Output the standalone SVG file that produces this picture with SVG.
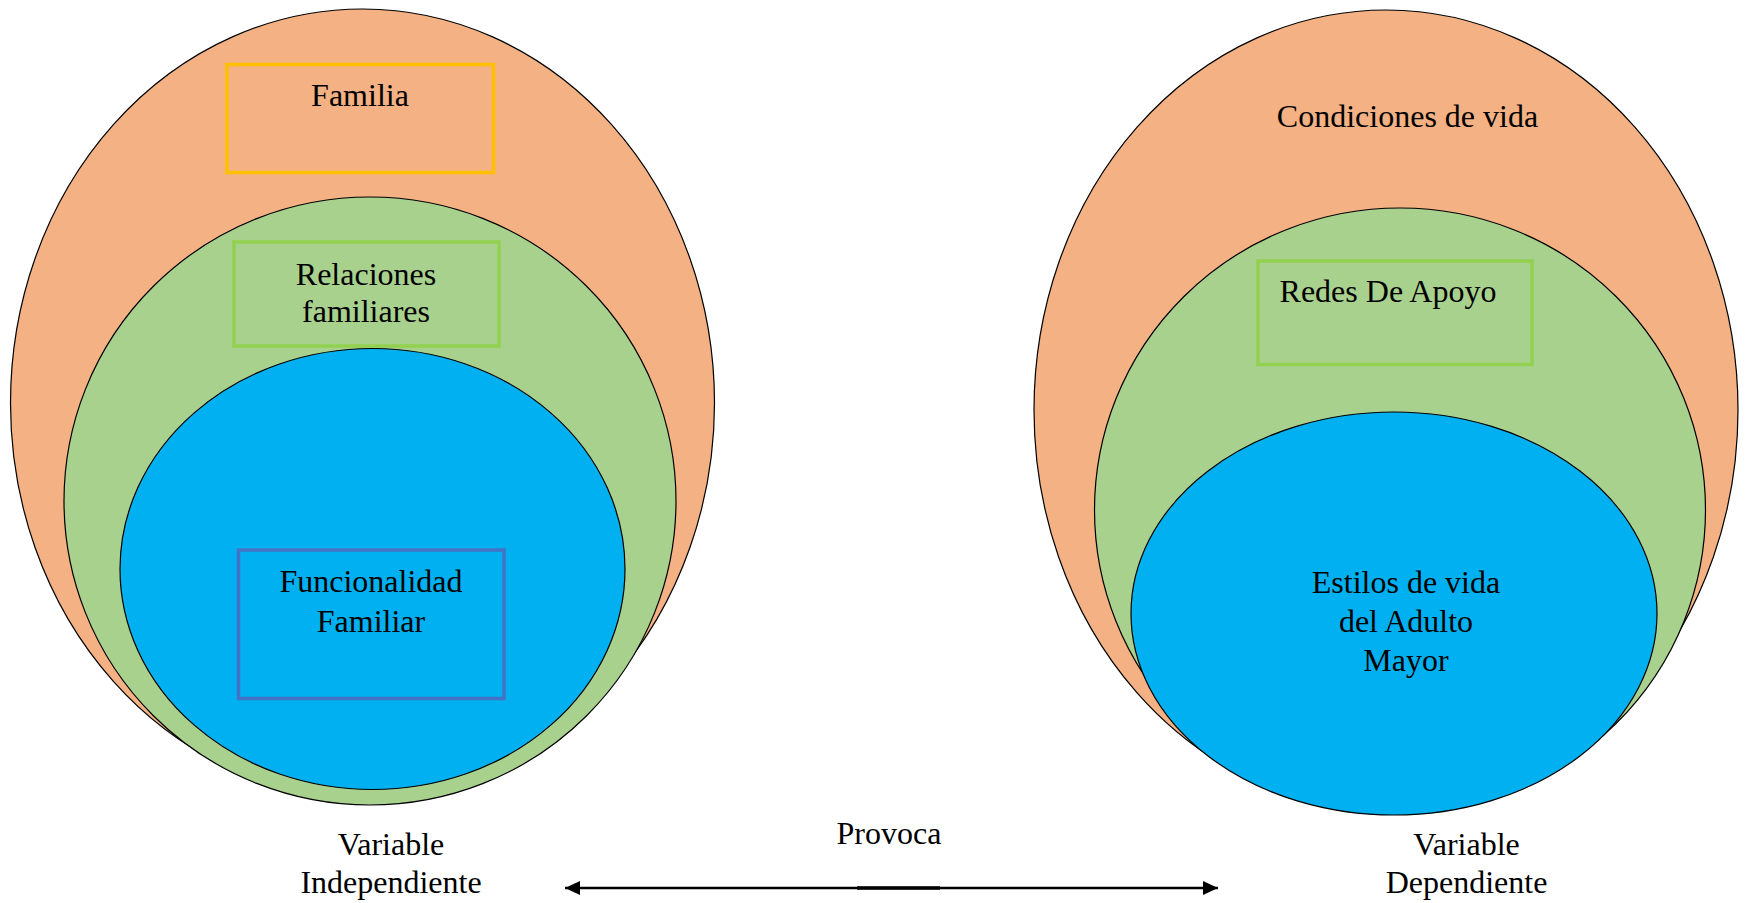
<svg xmlns="http://www.w3.org/2000/svg" width="1751" height="903" viewBox="0 0 1751 903">
<defs>
<style>
.t{font-family:"Liberation Serif","Times New Roman",serif;font-size:32px;fill:#000;text-anchor:middle}
.e{stroke:#000;stroke-width:1.2}
.o{fill:#F4B183}.g{fill:#A9D18E}.b{fill:#00B0F0}
.bx{fill:none;stroke-width:3.5}
.conn{stroke:#000;stroke-width:2.5;fill:none}
</style>
<marker id="ah" viewBox="0 0 15 14" refX="15" refY="7" markerWidth="15" markerHeight="14" orient="auto-start-reverse" markerUnits="userSpaceOnUse">
<path d="M0,0 L15,7 L0,14 z" fill="#000"/>
</marker>
</defs>
<rect width="1751" height="903" fill="#fff"/>
<g id="left">
<g id="familia">
<ellipse class="e o" cx="362.5" cy="403" rx="352" ry="394"/>
<rect class="bx" x="227" y="64.5" width="266.5" height="108" stroke="#FFC000"/>
<text class="t" x="360" y="106">Familia</text>
</g>
<g id="relaciones">
<ellipse class="e g" cx="370" cy="501" rx="306" ry="304"/>
<rect class="bx" x="234" y="242" width="265" height="104" stroke="#92D050"/>
<text class="t" x="366" y="285">Relaciones</text>
<text class="t" x="366" y="322">familiares</text>
</g>
<g id="funcionalidad">
<ellipse class="e b" cx="372.5" cy="569" rx="252.5" ry="220.5"/>
<rect class="bx" x="238.5" y="550" width="265.5" height="148.5" stroke="#4472C4"/>
<text class="t" x="371" y="592">Funcionalidad</text>
<text class="t" x="371" y="632">Familiar</text>
</g>
<text class="t" x="391" y="855">Variable</text>
<text class="t" x="391" y="893">Independiente</text>
</g>
<g id="right">
<g id="condiciones">
<ellipse class="e o" cx="1386" cy="410" rx="352" ry="400"/>
<text class="t" x="1407.5" y="127">Condiciones de vida</text>
</g>
<g id="redes">
<ellipse class="e g" cx="1400" cy="510" rx="305.5" ry="302"/>
<rect class="bx" x="1258" y="261" width="274" height="103.5" stroke="#92D050"/>
<text class="t" x="1388" y="302">Redes De Apoyo</text>
</g>
<g id="estilos">
<ellipse class="e b" cx="1394" cy="613.5" rx="263" ry="201.5"/>
<text class="t" x="1406" y="593">Estilos de vida</text>
<text class="t" x="1406" y="632">del Adulto</text>
<text class="t" x="1406" y="671">Mayor</text>
</g>
<text class="t" x="1466.5" y="855">Variable</text>
<text class="t" x="1466.5" y="893">Dependiente</text>
</g>
<g id="connectors">
<line class="conn" x1="565" y1="888" x2="1218" y2="888" marker-start="url(#ah)" marker-end="url(#ah)"/>
<line x1="857" y1="888" x2="940" y2="888" stroke="#000" stroke-width="3.5"/>
<text class="t" x="889" y="844">Provoca</text>
</g>
</svg>
